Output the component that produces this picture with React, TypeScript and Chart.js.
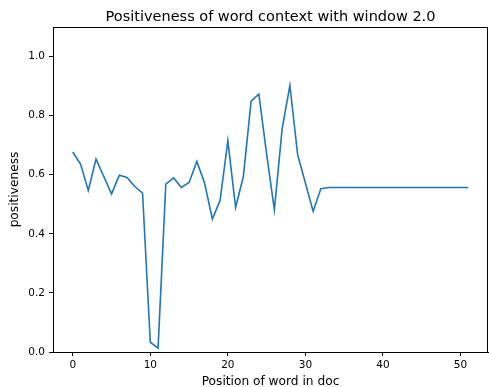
import React, { useEffect, useRef } from "react";
import { Chart, registerables } from "chart.js";

Chart.register(...registerables);

const positions: number[] = Array.from({ length: 52 }, (_, i) => i);
const positiveness: number[] = [
  0.677, 0.636, 0.547, 0.653, 0.594, 0.535, 0.598, 0.591, 0.56, 0.538,
  0.033, 0.013, 0.568, 0.589, 0.557, 0.574, 0.645, 0.572, 0.45, 0.513,
  0.715, 0.489, 0.594, 0.849, 0.873, 0.67, 0.481, 0.755, 0.902, 0.668,
  0.572, 0.476, 0.553, 0.557, 0.557, 0.557, 0.557, 0.557, 0.557, 0.557,
  0.557, 0.557, 0.557, 0.557, 0.557, 0.557, 0.557, 0.557, 0.557, 0.557,
  0.557, 0.557,
];
const xTicks: number[] = [0, 10, 20, 30, 40, 50];
const yTicks: number[] = [0, 0.2, 0.4, 0.6, 0.8, 1.0];
const titleText = "Positiveness of word context with window 2.0";
const xTitle = "Position of word in doc";
const yTitle = "positiveness";

const FONT = "'DejaVu Sans', sans-serif";

export default function App() {
  const ref = useRef<HTMLCanvasElement | null>(null);
  useEffect(() => {
    document.body.style.margin = "0";
    const canvas = ref.current!;
    const framePlugin = {
      id: "frame",
      afterDraw(chart: any) {
        const { ctx, chartArea } = chart;
        ctx.save();
        ctx.strokeStyle = "#000";
        ctx.lineWidth = 1;
        ctx.strokeRect(
          Math.round(chartArea.left) + 0.5,
          Math.round(chartArea.top) + 0.5,
          Math.round(chartArea.right - chartArea.left) - 1,
          Math.round(chartArea.bottom - chartArea.top)
        );
        ctx.fillStyle = "#000";
        ctx.textAlign = "center";
        ctx.textBaseline = "middle";
        ctx.font = `14.5px ${FONT}`;
        ctx.fillText(titleText, (chartArea.left + chartArea.right) / 2, 17);
        ctx.font = `12.2px ${FONT}`;
        ctx.fillText(xTitle, (chartArea.left + chartArea.right) / 2, 382);
        ctx.translate(15, (chartArea.top + chartArea.bottom) / 2);
        ctx.rotate(-Math.PI / 2);
        ctx.fillText(yTitle, 0, 0);
        ctx.restore();
      },
    };
    const chart = new Chart(canvas, {
      type: "line",
      data: {
        datasets: [
          {
            data: positions.map((x, i) => ({ x, y: positiveness[i] })),
            borderColor: "#1f77b4",
            borderWidth: 1.6,
            pointRadius: 0,
            fill: false,
            tension: 0,
          },
        ],
      },
      options: {
        animation: false,
        responsive: false,
        layout: { padding: { top: 27, right: 1, left: 0, bottom: 0 } },
        plugins: {
          legend: { display: false },
          tooltip: { enabled: false },
          title: { display: false },
        },
        scales: {
          x: {
            type: "linear",
            min: -2.55,
            max: 53.55,
            afterBuildTicks: (s: any) => {
              s.ticks = xTicks.map((v) => ({ value: v }));
            },
            afterFit: (s: any) => {
              s.height = 35;
            },
            grid: {
              drawOnChartArea: false,
              drawTicks: true,
              tickLength: 4,
              color: "#000",
            },
            border: { display: true, color: "#000" },
            ticks: {
              color: "#000",
              font: { family: FONT, size: 10.5 },
              padding: 3,
              maxRotation: 0,
              callback: (v: any) => String(v),
            },
          },
          y: {
            type: "linear",
            min: 0,
            max: 1.1,
            afterBuildTicks: (s: any) => {
              s.ticks = yTicks.map((v) => ({ value: v }));
            },
            afterFit: (s: any) => {
              s.width = 53;
            },
            grid: {
              drawOnChartArea: false,
              drawTicks: true,
              tickLength: 4,
              color: "#000",
            },
            border: { display: true, color: "#000" },
            ticks: {
              color: "#000",
              font: { family: FONT, size: 10.5 },
              padding: 4,
              callback: (v: any) => Number(v).toFixed(1),
            },
          },
        },
      },
      plugins: [framePlugin],
    });
    return () => chart.destroy();
  }, []);
  return (
    <div style={{ position: "absolute", left: 0, top: 0, width: 489, height: 387, background: "#fff" }}>
      <canvas ref={ref} width={489} height={387} style={{ display: "block" }} />
    </div>
  );
}
